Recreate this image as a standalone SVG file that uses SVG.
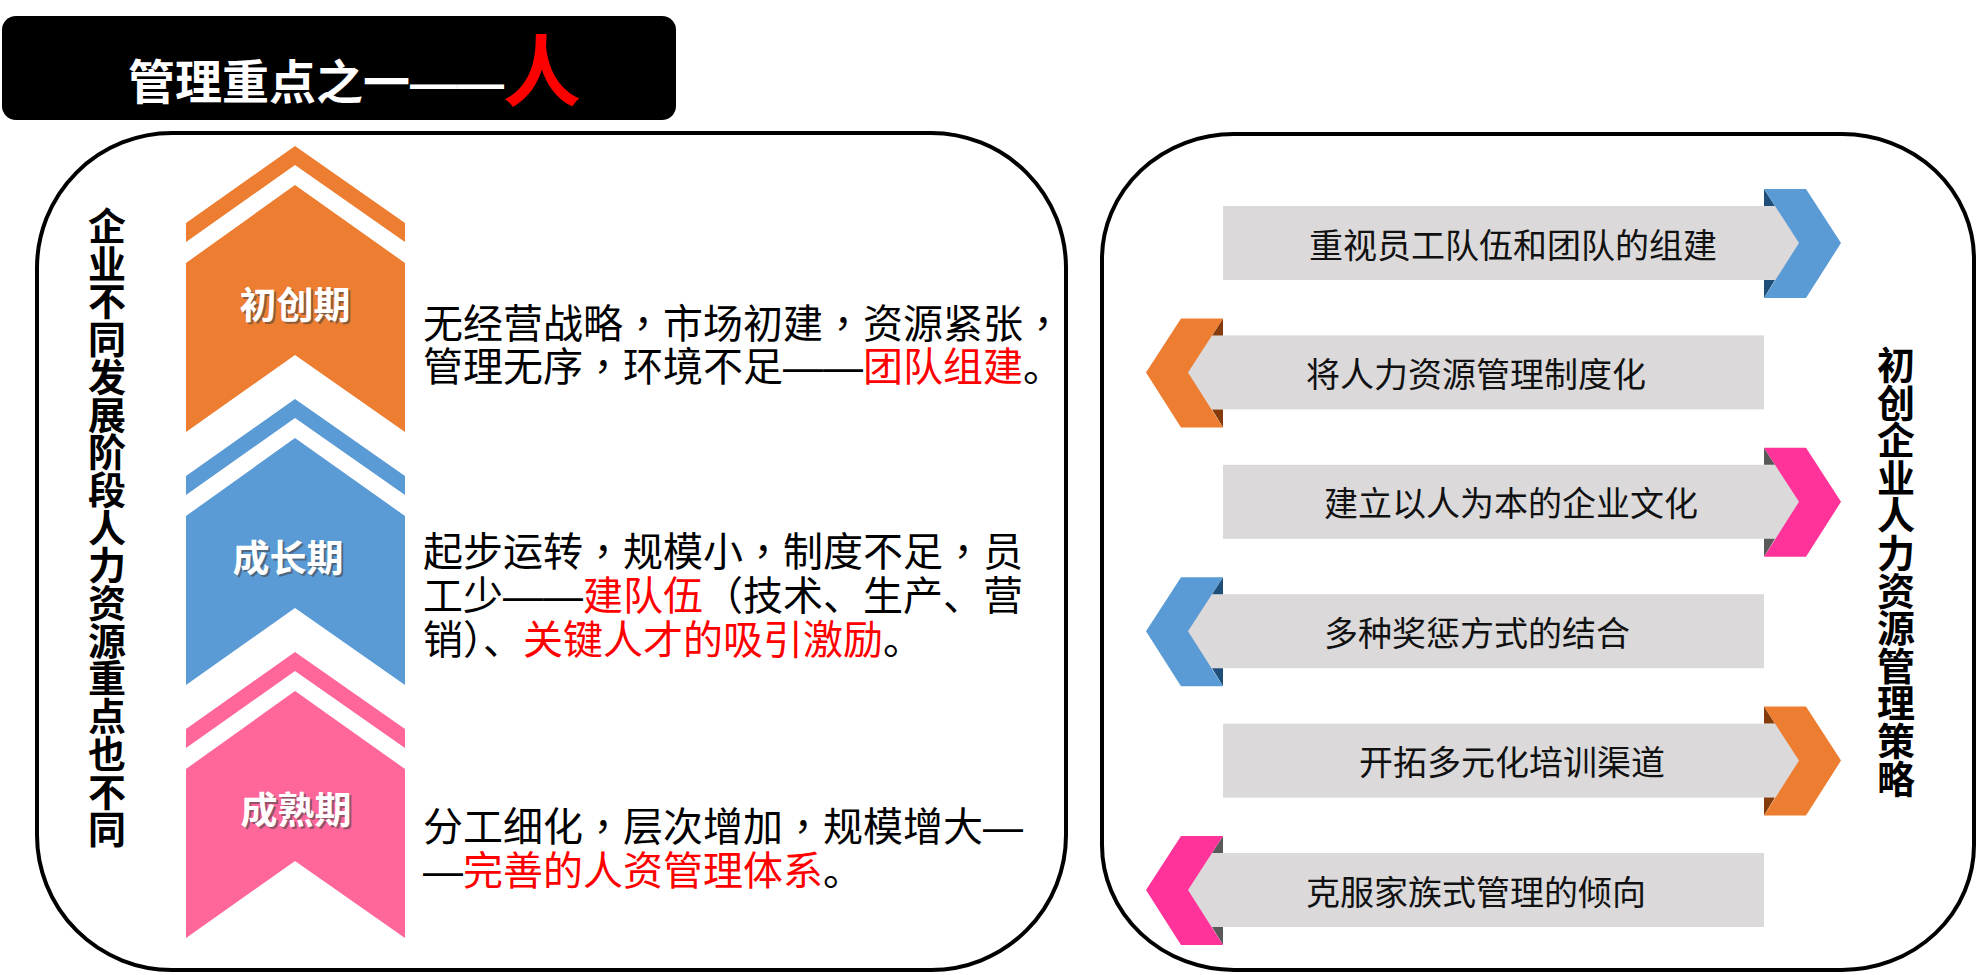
<svg xmlns="http://www.w3.org/2000/svg" width="1978" height="975" viewBox="0 0 1978 975">
<style>
.cjk{font-family:"Noto Sans CJK SC","Noto Sans CJK JP",sans-serif}
.tc{font-family:"Noto Sans CJK TC","Noto Sans CJK SC",sans-serif}
.dash{font-family:"Liberation Sans","Noto Sans CJK SC",sans-serif}
.panel{fill:#fff;stroke:#000;stroke-width:4}
.desc{font-size:40px;fill:#000}
.red{fill:#ff0000}
.stage{font-size:37px;font-weight:700;fill:#fff;text-anchor:middle}
.stageSh{font-size:37px;font-weight:700;fill:#404040;opacity:0.55;text-anchor:middle}
.vert{font-size:38px;font-weight:700;fill:#000;text-anchor:middle}
.bar{fill:#dbd9da}
.item{font-size:34px;fill:#111;text-anchor:middle}
.blue{fill:#5b9bd5}.orange{fill:#ed7d31}.pink{fill:#ff3399}
.dblue{fill:#1f4e79}.dorange{fill:#843c0c}.dpink{fill:#595959}
</style>
<rect width="1978" height="975" fill="#fff"/>

<g id="title">
<rect x="2" y="16" width="674" height="104" rx="14" fill="#000"/>
<text class="cjk" x="128" y="99" font-size="47" font-weight="700" fill="#fff">管理重点之一</text>
<text class="dash" x="410" y="99" font-size="47" font-weight="700" fill="#fff" textLength="94" lengthAdjust="spacingAndGlyphs">——</text>
<text class="cjk" x="503" y="100" font-size="78" font-weight="700" fill="#ff0000">人</text>
</g>

<g id="left-panel">
<rect class="panel" x="37" y="133" width="1029" height="837" rx="135" ry="135"/>
<text class="cjk vert" x="107"><tspan x="107" y="240">企</tspan><tspan x="107" dy="37.7">业</tspan><tspan x="107" dy="37.7">不</tspan><tspan x="107" dy="37.7">同</tspan><tspan x="107" dy="37.7">发</tspan><tspan x="107" dy="37.7">展</tspan><tspan x="107" dy="37.7">阶</tspan><tspan x="107" dy="37.7">段</tspan><tspan x="107" dy="37.7">人</tspan><tspan x="107" dy="37.7">力</tspan><tspan x="107" dy="37.7">资</tspan><tspan x="107" dy="37.7">源</tspan><tspan x="107" dy="37.7">重</tspan><tspan x="107" dy="37.7">点</tspan><tspan x="107" dy="37.7">也</tspan><tspan x="107" dy="37.7">不</tspan><tspan x="107" dy="37.7">同</tspan></text>
</g>

<g id="stage-1">
<polygon class="orange" points="186,223 295,146 405,223 405,242 295,165 186,242"/>
<polygon class="orange" points="186,263 295,185 405,263 405,432 295,355 186,432"/>
<text class="cjk stageSh" x="297" y="321">初创期</text>
<text class="cjk stage" x="295" y="319">初创期</text>
<text class="cjk desc" x="423" y="338">无经营战略<tspan class="tc">，</tspan>市场初建<tspan class="tc">，</tspan>资源紧张<tspan class="tc">，</tspan></text>
<text class="cjk desc" x="423" y="381">管理无序<tspan class="tc">，</tspan>环境不足<tspan class="dash">——</tspan><tspan class="red">团队组建</tspan>。</text>
</g>

<g id="stage-2">
<polygon class="blue" points="186,476 295,399 405,476 405,495 295,418 186,495"/>
<polygon class="blue" points="186,516 295,438 405,516 405,685 295,608 186,685"/>
<text class="cjk stageSh" x="290" y="574">成长期</text>
<text class="cjk stage" x="288" y="572">成长期</text>
<text class="cjk desc" x="423" y="566">起步运转<tspan class="tc">，</tspan>规模小<tspan class="tc">，</tspan>制度不足<tspan class="tc">，</tspan>员</text>
<text class="cjk desc" x="423" y="610">工少<tspan class="dash">——</tspan><tspan class="red">建队伍</tspan>（技术、生产、营</text>
<text class="cjk desc" x="423" y="654">销）、<tspan class="red">关键人才的吸引激励</tspan>。</text>
</g>

<g id="stage-3">
<polygon fill="#ff6699" points="186,729 295,652 405,729 405,748 295,671 186,748"/>
<polygon fill="#ff6699" points="186,769 295,691 405,769 405,938 295,861 186,938"/>
<text class="cjk stageSh" x="298" y="826">成熟期</text>
<text class="cjk stage" x="296" y="824">成熟期</text>
<text class="cjk desc" x="423" y="841">分工细化<tspan class="tc">，</tspan>层次增加<tspan class="tc">，</tspan>规模增大<tspan class="dash">—</tspan></text>
<text class="cjk desc" x="423" y="885"><tspan class="dash">—</tspan><tspan class="red">完善的人资管理体系</tspan>。</text>
</g>

<g id="right-panel">
<rect class="panel" x="1102" y="134" width="872" height="836" rx="132" ry="125"/>
<text class="cjk vert" x="1896"><tspan x="1896" y="379">初</tspan><tspan x="1896" dy="37.6">创</tspan><tspan x="1896" dy="37.6">企</tspan><tspan x="1896" dy="37.6">业</tspan><tspan x="1896" dy="37.6">人</tspan><tspan x="1896" dy="37.6">力</tspan><tspan x="1896" dy="37.6">资</tspan><tspan x="1896" dy="37.6">源</tspan><tspan x="1896" dy="37.6">管</tspan><tspan x="1896" dy="37.6">理</tspan><tspan x="1896" dy="37.6">策</tspan><tspan x="1896" dy="37.6">略</tspan></text>
</g>

<g id="item-1">
<rect class="bar" x="1223" y="206" width="577" height="74"/>
<polygon class="dblue" points="1764,189 1764,206 1775,206"/>
<polygon class="dblue" points="1764,298 1764,280 1775,280"/>
<polygon class="blue" points="1764,189 1806,189 1841,243 1806,298 1764,298 1799,243"/>
<text class="cjk item" x="1513" y="257.5">重视员工队伍和团队的组建</text>
</g>

<g id="item-2">
<rect class="bar" x="1187" y="335.4" width="577" height="74"/>
<polygon class="dorange" points="1223,318.4 1223,335.4 1212,335.4"/>
<polygon class="dorange" points="1223,427.4 1223,409.4 1212,409.4"/>
<polygon class="orange" points="1223,318.4 1181,318.4 1146,372.4 1181,427.4 1223,427.4 1188,372.4"/>
<text class="cjk item" x="1476" y="386.9">将人力资源管理制度化</text>
</g>

<g id="item-3">
<rect class="bar" x="1223" y="464.8" width="577" height="74"/>
<polygon class="dpink" points="1764,447.8 1764,464.8 1775,464.8"/>
<polygon class="dpink" points="1764,556.8 1764,538.8 1775,538.8"/>
<polygon class="pink" points="1764,447.8 1806,447.8 1841,501.8 1806,556.8 1764,556.8 1799,501.8"/>
<text class="cjk item" x="1511" y="516.3">建立以人为本的企业文化</text>
</g>

<g id="item-4">
<rect class="bar" x="1187" y="594.2" width="577" height="74"/>
<polygon class="dblue" points="1223,577.2 1223,594.2 1212,594.2"/>
<polygon class="dblue" points="1223,686.2 1223,668.2 1212,668.2"/>
<polygon class="blue" points="1223,577.2 1181,577.2 1146,631.2 1181,686.2 1223,686.2 1188,631.2"/>
<text class="cjk item" x="1477" y="645.7">多种奖惩方式的结合</text>
</g>

<g id="item-5">
<rect class="bar" x="1223" y="723.6" width="577" height="74"/>
<polygon class="dorange" points="1764,706.6 1764,723.6 1775,723.6"/>
<polygon class="dorange" points="1764,815.6 1764,797.6 1775,797.6"/>
<polygon class="orange" points="1764,706.6 1806,706.6 1841,760.6 1806,815.6 1764,815.6 1799,760.6"/>
<text class="cjk item" x="1512" y="775.1">开拓多元化培训渠道</text>
</g>

<g id="item-6">
<rect class="bar" x="1187" y="853" width="577" height="74"/>
<polygon class="dpink" points="1223,836 1223,853 1212,853"/>
<polygon class="dpink" points="1223,945 1223,927 1212,927"/>
<polygon class="pink" points="1223,836 1181,836 1146,890 1181,945 1223,945 1188,890"/>
<text class="cjk item" x="1476" y="904.5">克服家族式管理的倾向</text>
</g>

<g id="connectors"></g>
</svg>
